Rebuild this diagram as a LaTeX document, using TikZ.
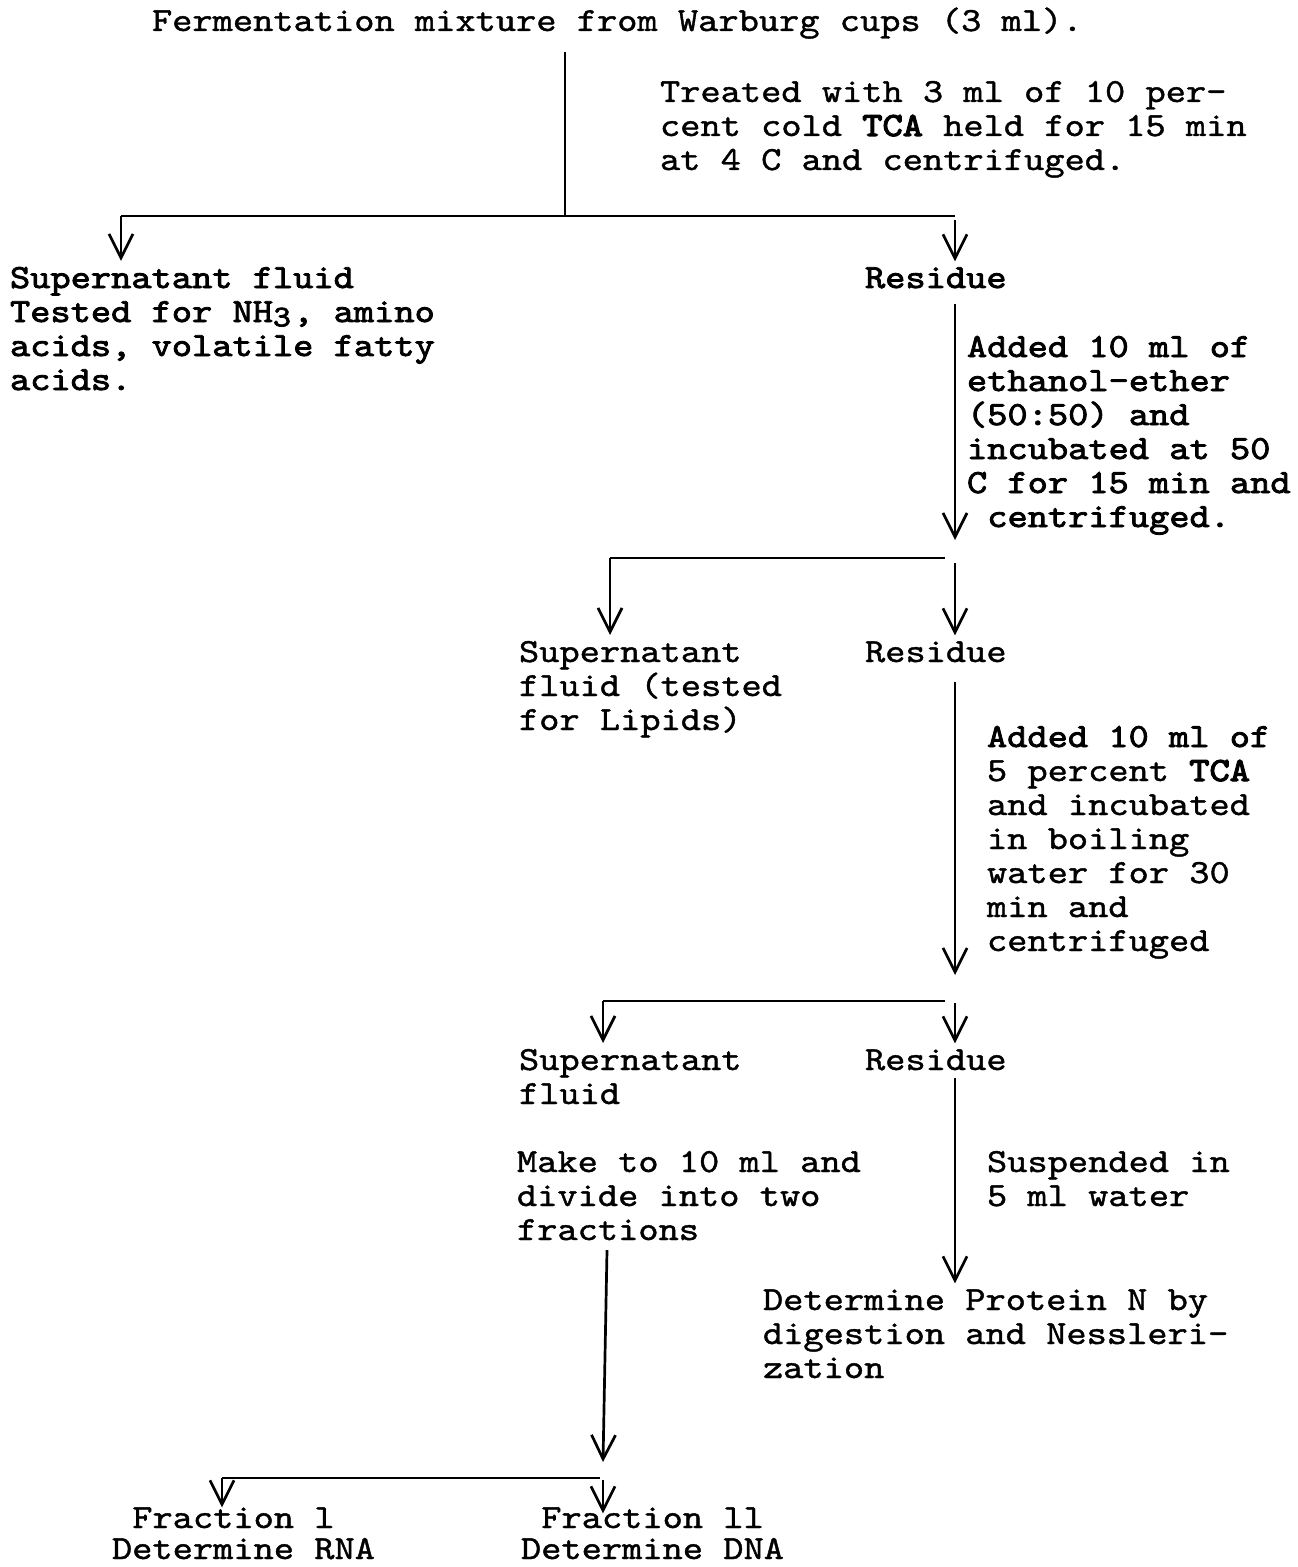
\documentclass[tikz,border=0pt]{standalone}
\usepackage{fontspec}
\newfontfamily\twf{lmmono10-regular.otf}[FakeStretch=1.14, FakeBold=1.2]
\newfontfamily\darkf{lmmono10-regular.otf}[FakeStretch=1.14, FakeBold=2.4]
\newfontfamily\boldf{lmmono10-regular.otf}[FakeStretch=1.14, FakeBold=3.6]
\newcommand{\tca}{{\boldf TCA}}
\usetikzlibrary{arrows.meta}
\begin{document}
\begin{tikzpicture}[x=0.5pt,y=-0.5pt,
  txt/.style={anchor=base west, inner sep=0pt, outer sep=0pt, align=left,
    font=\fontsize{16.9}{17}\twf},
  btxt/.style={txt, font=\fontsize{16.9}{17}\darkf},
  ln/.style={line width=1.35pt},
  arr/.style={ln, -{Straight Barb[length=12pt,width=12pt,line width=1.35pt]}}]
\useasboundingbox[fill=white] (0,0) rectangle (1297,1567);
% texts (anchor: baseline of the last line)
\node[txt] (title) at (152,31) {Fermentation mixture from Warburg cups (3 ml).};
\node[txt] (treat) at (660,170) {Treated with 3 ml of 10 per-\\cent cold \tca{} held for 15 min\\at 4 C and centrifuged.};
\node[btxt] (sup1) at (10,390) {Supernatant fluid\\Tested for NH\makebox[0.6em][l]{\raisebox{-0.3ex}{\fontsize{15}{15}\selectfont 3}}, amino\\acids, volatile fatty\\acids.};
\node[btxt] (res1) at (865,288) {Residue};
\node[btxt] (add1) at (967,527) {Added 10 ml of\\ethanol-ether\\(50:50) and\\incubated at 50\\C for 15 min and\\\hspace*{0.6em}centrifuged.};
\node[txt] (sup2) at (519,730) {Supernatant\\fluid (tested\\for Lipids)};
\node[txt] (res2) at (865,662) {Residue};
\node[txt] (add2) at (987,951) {{\darkf Added 10 ml of}\\5 percent \tca\\and incubated\\in boiling\\water for 30\\min and\\centrifuged};
\node[txt] (sup3) at (519,1104) {Supernatant\\fluid};
\node[txt] (res3) at (865,1070) {Residue};
\node[txt] (make) at (517,1240) {Make to 10 ml and\\divide into two\\fractions};
\node[txt] (susp) at (987,1206) {Suspended in\\5 ml water};
\node[txt] (prot) at (763,1378) {Determine Protein N by\\digestion and Nessleri-\\zation};
\node[txt] (frac1) at (112,1559) {\hspace*{0.6em}Fraction l\\[-1.5pt]Determine RNA};
\node[txt] (frac2) at (521,1559) {\hspace*{0.6em}Fraction ll\\[-1.5pt]Determine DNA};
% junction points
\coordinate (t1) at (565,52);
\coordinate (j1) at (565,216);
\coordinate (a1) at (121,216);
\coordinate (b1) at (955,216);
\coordinate (e1) at (955,540);
\coordinate (a2) at (610,558);
\coordinate (b2) at (945,558);
\coordinate (c2) at (955,563);
\coordinate (e2) at (955,975);
\coordinate (a3) at (603,1001);
\coordinate (b3) at (945,1001);
\coordinate (c3) at (955,1003);
\coordinate (v5) at (607,1250);
\coordinate (e5) at (603,1462);
\coordinate (a5) at (222,1478);
\coordinate (b5) at (600,1478);
\coordinate (c5) at (603,1480);
% connectors
\draw[ln] (t1) -- (j1);
\draw[ln] (a1) -- (b1);
\draw[arr, shorten >=3pt] (a1) -- (a1 |- sup1.north);
\draw[arr, shorten >=3pt] ([yshift=-2pt]b1) -- (b1 |- res1.north);
\draw[arr] ([yshift=-8pt]res1.south -| b1) -- (e1);
\draw[ln] (a2) -- (b2);
\draw[arr, shorten >=3pt] (a2) -- (a2 |- sup2.north);
\draw[arr, shorten >=3pt] (c2) -- (c2 |- res2.north);
\draw[arr] ([yshift=-10pt]res2.south -| c2) -- (e2);
\draw[ln] (a3) -- (b3);
\draw[arr, shorten >=3pt] (a3) -- (a3 |- sup3.north);
\draw[arr, shorten >=3pt] (c3) -- (c3 |- res3.north);
\draw[arr, shorten >=3pt] ([yshift=-4pt]res3.south -| c3) -- (prot.north -| c3);
\draw[arr] ([yshift=-5pt]make.south -| v5) -- (e5);
\draw[ln] (a5) -- (b5);
\draw[arr] (a5) -- (a5 |- frac1.north);
\draw[arr] (c5) -- ([yshift=-3pt]c5 |- frac2.north);
\end{tikzpicture}
\end{document}
